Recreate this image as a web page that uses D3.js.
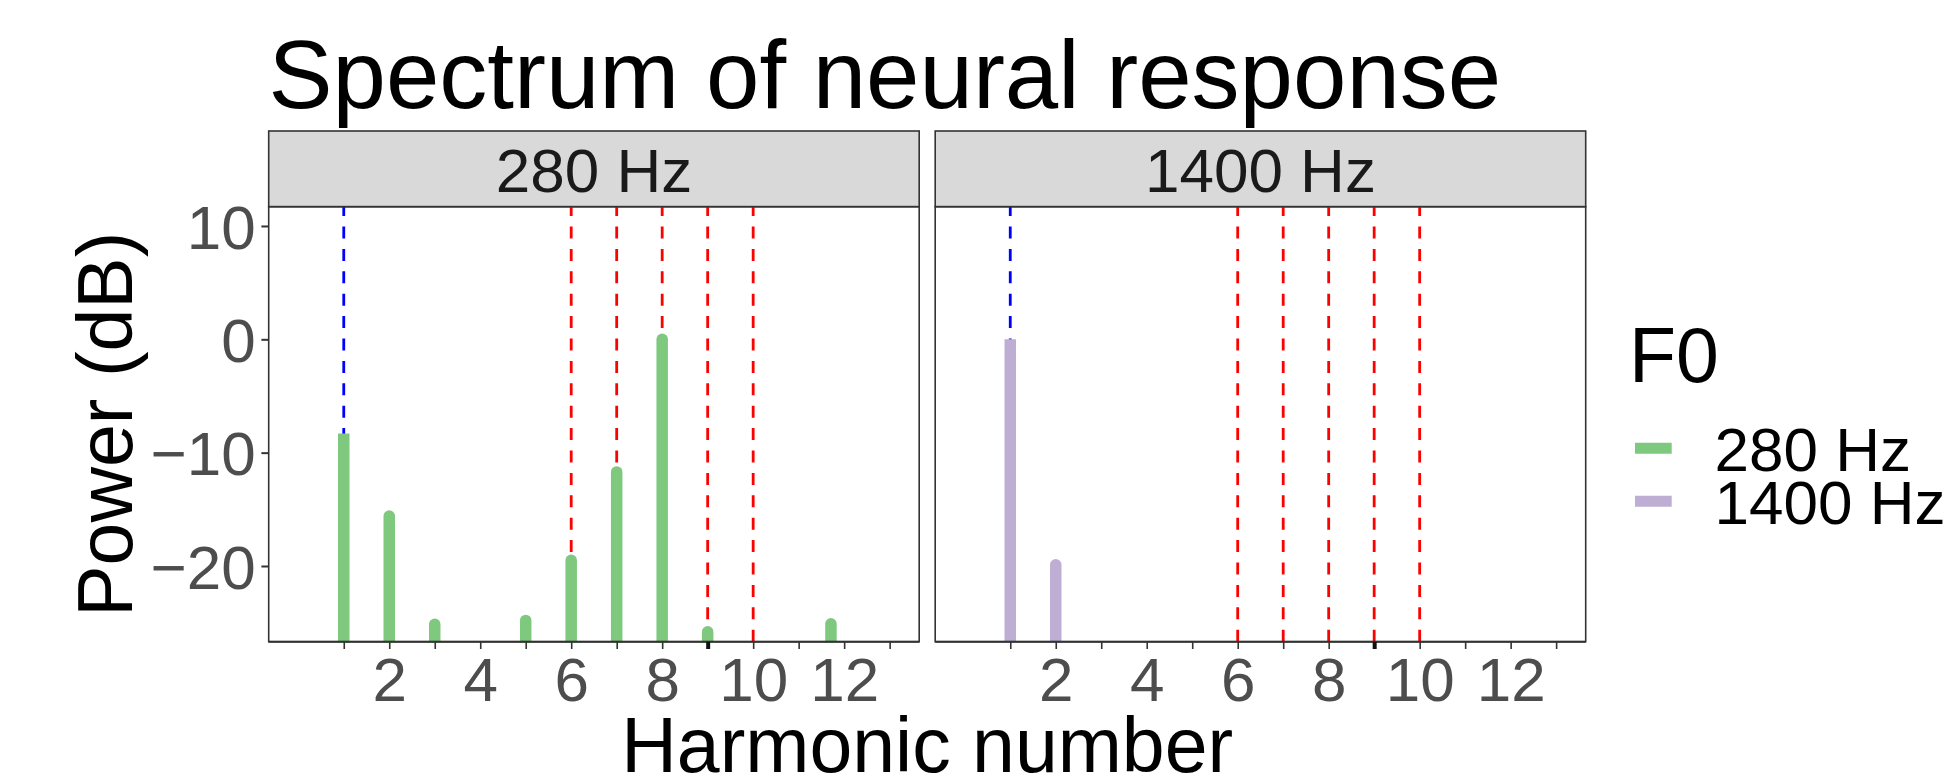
<!DOCTYPE html>
<html>
<head>
<meta charset="utf-8">
<script src="https://cdn.jsdelivr.net/npm/d3@7"></script>
<style>
  body { margin: 0; background: #fff; }
  svg { display: block; font-family: "Liberation Sans", Arial, sans-serif; }
</style>
</head>
<body>
<div id="chart"></div>
<script>
// panels (facets) and legend entries
var panels = ["280 Hz", "1400 Hz"];
var colors = ["#7FC97F", "#BEAED4"];

// harmonic positions and power (dB)
var harm280 = [1, 2, 3, 5, 6, 7, 8, 9, 11.71];
var power280 = [-8.3, -15.6, -25.15, -24.8, -19.5, -11.7, 0, -25.8, -25.1];
var harm1400 = [1, 2];
var power1400 = [0, -19.9];

// reference lines
var blueLines = [1];
var redLines = [6, 7, 8, 9, 10];

// axes
var xTicks = d3.range(1, 14);
var xLabels = [2, 4, 6, 8, 10, 12];
var yTicks = [-20, -10, 0, 10];
var markedTick = 9;

var width = 1956, height = 776;
var panelLeft = [268.7, 935.2];
var panelW = 650.5;
var panelTop = 206.7, panelBottom = 641.7;
var stripTop = 131;
var barWidth = 11.5;

var series = [
  {harm: harm280, power: power280},
  {harm: harm1400, power: power1400}
];

var svg = d3.select("#chart").append("svg")
  .attr("width", width)
  .attr("height", height);

var y = d3.scaleLinear()
  .domain([-26.68, 11.7])
  .range([panelBottom, panelTop]);

panels.forEach(function(name, p) {
  var x = d3.scaleLinear()
    .domain([-0.65, 13.65])
    .range([panelLeft[p], panelLeft[p] + panelW]);

  var g = svg.append("g");

  // strip
  g.append("rect")
    .attr("x", panelLeft[p])
    .attr("y", stripTop)
    .attr("width", panelW)
    .attr("height", panelTop - stripTop)
    .attr("fill", "#D9D9D9")
    .attr("stroke", "#333333")
    .attr("stroke-width", 1.6);

  g.append("text")
    .attr("x", panelLeft[p] + panelW / 2)
    .attr("y", 191.5)
    .attr("text-anchor", "middle")
    .attr("font-size", 62)
    .attr("fill", "#1A1A1A")
    .text(name);

  // dashed reference lines, drawn from the bottom up
  var dashed = blueLines.map(h => ({h: h, c: "#0000FF"}))
    .concat(redLines.map(h => ({h: h, c: "#FF0000"})));

  g.selectAll(".vline")
    .data(dashed).enter()
    .append("line")
    .attr("class", "vline")
    .attr("x1", d => x(d.h))
    .attr("x2", d => x(d.h))
    .attr("y1", panelBottom)
    .attr("y2", panelTop)
    .attr("stroke", d => d.c)
    .attr("stroke-width", 2.8)
    .attr("stroke-dasharray", "12 10.4");

  // bars
  var s = series[p];
  var pts = s.harm.map((h, i) => ({h: h, v: s.power[i], first: i === 0}));

  g.selectAll(".bar")
    .data(pts).enter()
    .append("line")
    .attr("class", "bar")
    .attr("x1", d => x(d.h))
    .attr("x2", d => x(d.h))
    .attr("y1", panelBottom)
    .attr("y2", d => y(d.v))
    .attr("stroke", colors[p])
    .attr("stroke-width", barWidth)
    .attr("stroke-linecap", d => d.first ? "butt" : "round");

  // cover the round cap at the bottom
  g.append("rect")
    .attr("x", panelLeft[p])
    .attr("y", panelBottom)
    .attr("width", panelW)
    .attr("height", 10)
    .attr("fill", "#fff");

  // panel border
  g.append("rect")
    .attr("x", panelLeft[p])
    .attr("y", panelTop)
    .attr("width", panelW)
    .attr("height", panelBottom - panelTop)
    .attr("fill", "none")
    .attr("stroke", "#333333")
    .attr("stroke-width", 1.6);

  g.append("line")
    .attr("x1", panelLeft[p])
    .attr("x2", panelLeft[p] + panelW)
    .attr("y1", panelBottom)
    .attr("y2", panelBottom)
    .attr("stroke", "#333333")
    .attr("stroke-width", 2);

  // x axis
  var xAxis = d3.axisBottom(x)
    .tickValues(xTicks)
    .tickSize(7.3)
    .tickFormat(d => xLabels.indexOf(d) >= 0 ? d : "");

  var ax = g.append("g")
    .attr("transform", `translate(0, ${panelBottom})`)
    .call(xAxis);
  ax.select(".domain").remove();
  ax.selectAll(".tick line")
    .attr("stroke-width", d => d === markedTick ? 4 : 1.6)
    .attr("stroke", d => d === markedTick ? "#111" : "#333333");
  ax.selectAll(".tick text")
    .filter(d => xLabels.indexOf(d) < 0)
    .remove();
  ax.selectAll(".tick text")
    .attr("y", 15.3)
    .attr("font-size", 62)
    .attr("font-family", "Liberation Sans, Arial, sans-serif")
    .attr("fill", "#4D4D4D");

  // y axis only on the first panel
  if (p === 0) {
    var yAxis = d3.axisLeft(y)
      .tickValues(yTicks)
      .tickSize(7.3);
    var ay = g.append("g")
      .attr("transform", `translate(${panelLeft[p]}, 0)`)
      .call(yAxis);
    ay.select(".domain").remove();
    ay.selectAll(".tick line")
      .attr("stroke", "#333333")
      .attr("stroke-width", 2);
    ay.selectAll(".tick text")
      .attr("x", -13)
      .attr("dy", "0.36em")
      .attr("font-size", 62)
      .attr("font-family", "Liberation Sans, Arial, sans-serif")
      .attr("fill", "#4D4D4D");
  }
});

// titles
svg.append("text")
  .attr("x", 268.5)
  .attr("y", 108.3)
  .attr("font-size", 96)
  .attr("fill", "#000")
  .text("Spectrum of neural response");

svg.append("text")
  .attr("x", (panelLeft[0] + panelLeft[1] + panelW) / 2)
  .attr("y", 771.5)
  .attr("text-anchor", "middle")
  .attr("font-size", 77)
  .attr("fill", "#000")
  .text("Harmonic number");

svg.append("text")
  .attr("transform", `translate(131.7, ${(panelTop + panelBottom) / 2}) rotate(-90)`)
  .attr("text-anchor", "middle")
  .attr("font-size", 77)
  .attr("fill", "#000")
  .text("Power (dB)");

// legend
var legend = svg.append("g");
legend.append("text")
  .attr("x", 1629)
  .attr("y", 381.7)
  .attr("font-size", 77)
  .attr("fill", "#000")
  .text("F0");

var keyY = [448.3, 501.2];
panels.forEach(function(name, i) {
  legend.append("line")
    .attr("x1", 1635)
    .attr("x2", 1671.7)
    .attr("y1", keyY[i])
    .attr("y2", keyY[i])
    .attr("stroke", colors[i])
    .attr("stroke-width", 11);
  legend.append("text")
    .attr("x", 1714.5)
    .attr("y", keyY[i] + 22.5)
    .attr("font-size", 62)
    .attr("fill", "#000")
    .text(name);
});
</script>
</body>
</html>
